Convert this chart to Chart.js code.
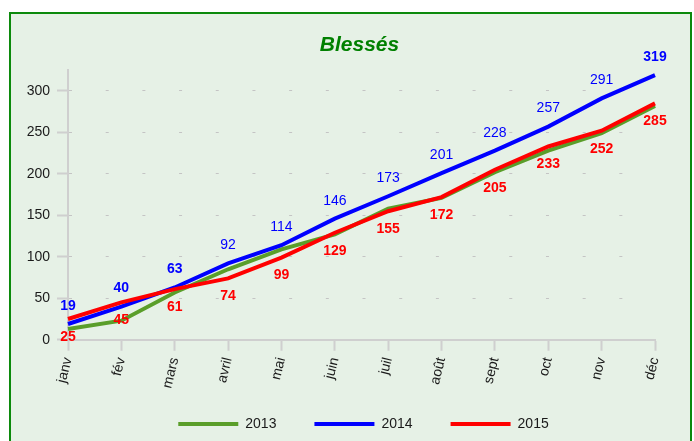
<!DOCTYPE html>
<html><head><meta charset="utf-8">
<script src="https://cdn.jsdelivr.net/npm/chart.js@4"></script>
<style>
html,body{margin:0;padding:0;background:#fff;width:694px;height:441px;overflow:hidden;}
#frame{position:absolute;left:9px;top:12px;width:679px;height:440px;border:2px solid #0c8a0c;background:#e6f1e6;}
#wrap{position:absolute;left:0;top:0;width:694px;height:441px;}
</style></head>
<body>
<div id="frame"></div>
<div id="wrap"><canvas id="c" width="694" height="441"></canvas></div>
<script>
const months = ['janv','fév','mars','avril','mai','juin','juil','août','sept','oct','nov','déc'];
const seriesNames = ['2013','2014','2015'];
const values2013 = [13,23,57,85,109,127,158,171,202,228,249,282];
const values2014 = [19,40,63,92,114,146,173,201,228,257,291,319];
const values2015 = [25,45,61,74,99,129,155,172,205,233,252,285];
const bold2014 = [true,true,true,false,false,false,false,false,false,false,false,true];
const bold2015 = [true,true,true,true,true,true,true,true,true,true,true,true];
const colors = ['#5a9e2a','#0000ff','#ff0000'];

const FONT = '"Liberation Sans", Arial, sans-serif';

const valueLabels = {
  id:'valueLabels',
  afterDatasetsDraw(chart){
    const ctx = chart.ctx;
    chart.data.datasets.forEach((ds,i)=>{
      if(!ds.labelBold) return;
      const meta = chart.getDatasetMeta(i);
      meta.data.forEach((pt,j)=>{
        ctx.save();
        ctx.font = (ds.labelBold[j] ? 'bold ' : '') + '14px ' + FONT;
        ctx.fillStyle = ds.borderColor;
        ctx.textAlign = 'center';
        ctx.textBaseline = 'middle';
        ctx.fillText(String(ds.data[j]), pt.x, pt.y + ds.labelOffset);
        ctx.restore();
      });
    });
  }
};

const titleCenter = {
  id:'titleCenter',
  afterLayout(chart){
    const t = chart.titleBlock, ca = chart.chartArea;
    if(!t) return;
    t.left = ca.left - 2;
    t.right = ca.right - 2;
    t.width = t.right - t.left;
  }
};

const customLegend = {
  id:'customLegend',
  afterDraw(chart){
    const ctx = chart.ctx;
    ctx.save();
    ctx.font = '14px ' + FONT;
    const box = 60, gapText = 7, gap = 38;
    const items = chart.data.datasets.map(ds=>({text:ds.label,color:ds.borderColor,w:box+gapText+ctx.measureText(ds.label).width}));
    const total = items.reduce((a,b)=>a+b.w,0) + gap*(items.length-1);
    const ca = chart.chartArea;
    let x = (ca.left+ca.right)/2 + 2 - total/2;
    const y = 424;
    items.forEach(it=>{
      ctx.fillStyle = it.color;
      ctx.fillRect(x, y-2, box, 4);
      ctx.fillStyle = '#1a1a1a';
      ctx.textAlign = 'left';
      ctx.textBaseline = 'middle';
      ctx.fillText(it.text, x+box+gapText, y);
      x += it.w + gap;
    });
    ctx.restore();
  }
};

new Chart(document.getElementById('c'), {
  type:'line',
  data:{
    labels: months,
    datasets:[
      {label:seriesNames[0], data:values2013, borderColor:colors[0], backgroundColor:colors[0], borderWidth:4, pointRadius:0, tension:0, order:3},
      {label:seriesNames[1], data:values2014, borderColor:colors[1], backgroundColor:colors[1], borderWidth:4, pointRadius:0, tension:0, order:2, labelBold:bold2014, labelOffset:-18},
      {label:seriesNames[2], data:values2015, borderColor:colors[2], backgroundColor:colors[2], borderWidth:4, pointRadius:0, tension:0, order:1, labelBold:bold2015, labelOffset:18}
    ]
  },
  options:{
    responsive:false,
    animation:false,
    layout:{padding:{left:0,right:39,top:20,bottom:46}},
    plugins:{
      legend:{display:false},
      tooltip:{enabled:false},
      title:{display:true,text:'Blessés',color:'#008000',font:{family:FONT,size:21,style:'italic',weight:'bold'},padding:{top:13,bottom:12}}
    },
    scales:{
      x:{
        grid:{drawOnChartArea:false,drawTicks:true,tickLength:11,tickColor:'#cfcfcf',tickWidth:2},
        border:{color:'#cfcfcf',width:2},
        ticks:{color:'#1a1a1a',font:{family:FONT,size:14},minRotation:76,maxRotation:76,padding:5,autoSkip:false}
      },
      y:{
        min:0,max:325,
        afterFit(scale){ scale.width = 68; },
        grid:{color:'#c4c4c4',lineWidth:1,tickLength:11,tickColor:'#cfcfcf',tickWidth:2},
        border:{color:'#cfcfcf',width:2,dash:[3,33.69]},
        ticks:{stepSize:50,includeBounds:false,color:'#1a1a1a',font:{family:FONT,size:14},padding:7}
      }
    }
  },
  plugins:[valueLabels, titleCenter, customLegend]
});
</script>
</body></html>
